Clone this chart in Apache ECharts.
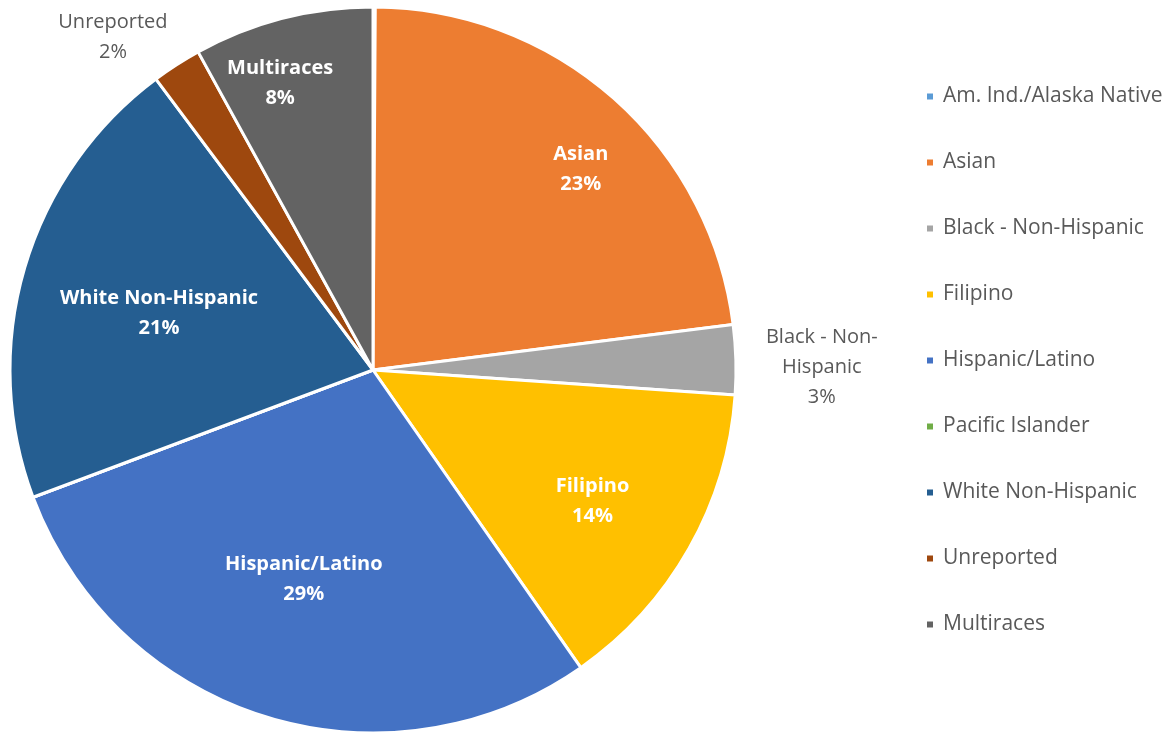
<!DOCTYPE html>
<html>
<head>
<meta charset="utf-8">
<script src="https://cdn.jsdelivr.net/npm/echarts@6/dist/echarts.min.js"></script>
<style>
html,body{margin:0;padding:0;background:#fff;}
#chart{width:1176px;height:732px;}
</style>
</head>
<body>
<div id="chart"></div>
<script>
const categories = ['Am. Ind./Alaska Native','Asian','Black - Non-Hispanic','Filipino','Hispanic/Latino','Pacific Islander','White Non-Hispanic','Unreported','Multiraces'];
const sliceLabels = ['Am. Ind./Alaska Native','Asian','Black - Non-\nHispanic','Filipino','Hispanic/Latino','Pacific Islander','White Non-Hispanic','Unreported','Multiraces'];
const values = [0.1, 22.9, 3.1, 14.2, 29.0, 0, 20.5, 2.2, 8.0];
const colors = ['#5B9BD5','#ED7D31','#A5A5A5','#FFC000','#4472C4','#70AD47','#255E91','#9E480E','#636363'];
const outsideLabels = ['Black - Non-Hispanic','Unreported'];
// groups of inside labels with the inner radius of their transparent label ring
const insideGroups = [
  {inner: 233, names: ['Asian','Multiraces']},
  {inner: 147, names: ['Filipino']},
  {inner: 77, names: ['Hispanic/Latino','White Non-Hispanic']}
];
// small label nudges (style only)
const labelNudge = {
  'Asian': [8, 24],
  'Multiraces': [-18, 5],
  'White Non-Hispanic': [0, 6],
  'Hispanic/Latino': [-3, -4],
  'Filipino': [-5, 4],
  'Black - Non-Hispanic': [-3, 9],
  'Unreported': [0, 6]
};

const R = 363;
const CENTER = [373, 370];
const FONT = '"Open Sans", Lato, sans-serif';

function pctText(p){ return Math.round(p.percent) + '%'; }
function nudgeLayout(params) {
  const n = labelNudge[categories[params.dataIndex]] || [0, 0];
  return {align: 'center', verticalAlign: 'middle', dx: n[0], dy: n[1]};
}

const mainData = categories.map((c, i) => {
  const item = {name: c, value: values[i], itemStyle: {color: colors[i]}};
  if (outsideLabels.indexOf(c) >= 0) {
    item.label = {show: true};
    item.labelLine = c === 'Unreported' ? {show: false, length: 40, length2: 37} : {show: false, length: 40, length2: 44};
  } else {
    item.label = {show: false};
  }
  return item;
});

const series = [{
  type: 'pie',
  name: 'main',
  center: CENTER,
  radius: [0, R],
  startAngle: 90,
  clockwise: true,
  avoidLabelOverlap: false,
  animation: false,
  itemStyle: {borderColor: '#ffffff', borderWidth: 3},
  label: {
    position: 'outside',
    fontFamily: FONT,
    fontSize: 20,
    lineHeight: 30,
    color: '#595959',
    formatter: p => sliceLabels[p.dataIndex] + '\n' + pctText(p)
  },
  labelLayout: nudgeLayout,
  emphasis: {disabled: true},
  data: mainData
}];

insideGroups.forEach(g => {
  series.push({
    type: 'pie',
    center: CENTER,
    radius: [g.inner, R],
    startAngle: 90,
    clockwise: true,
    silent: true,
    animation: false,
    avoidLabelOverlap: false,
    emphasis: {disabled: true},
    itemStyle: {color: 'rgba(0,0,0,0)', borderWidth: 0},
    label: {
      position: 'inside',
      fontFamily: FONT,
      fontSize: 20,
      fontWeight: 'bold',
      lineHeight: 30,
      color: '#ffffff',
      formatter: p => sliceLabels[p.dataIndex] + '\n' + pctText(p)
    },
    labelLayout: nudgeLayout,
    labelLine: {show: false},
    data: categories.map((c, i) => ({
      name: c, value: values[i],
      label: {show: g.names.indexOf(c) >= 0}
    }))
  });
});

const chart = echarts.init(document.getElementById('chart'), null, {renderer: 'canvas'});
chart.setOption({
  backgroundColor: '#ffffff',
  color: colors,
  legend: {
    orient: 'vertical',
    left: 920,
    top: 81,
    itemWidth: 8,
    itemHeight: 8,
    itemGap: 45,
    icon: 'rect',
    data: categories,
    textStyle: {fontFamily: FONT, fontSize: 21, color: '#595959', lineHeight: 20, padding: [0, 0, 0, 4]}
  },
  series: series
});
</script>
</body>
</html>
